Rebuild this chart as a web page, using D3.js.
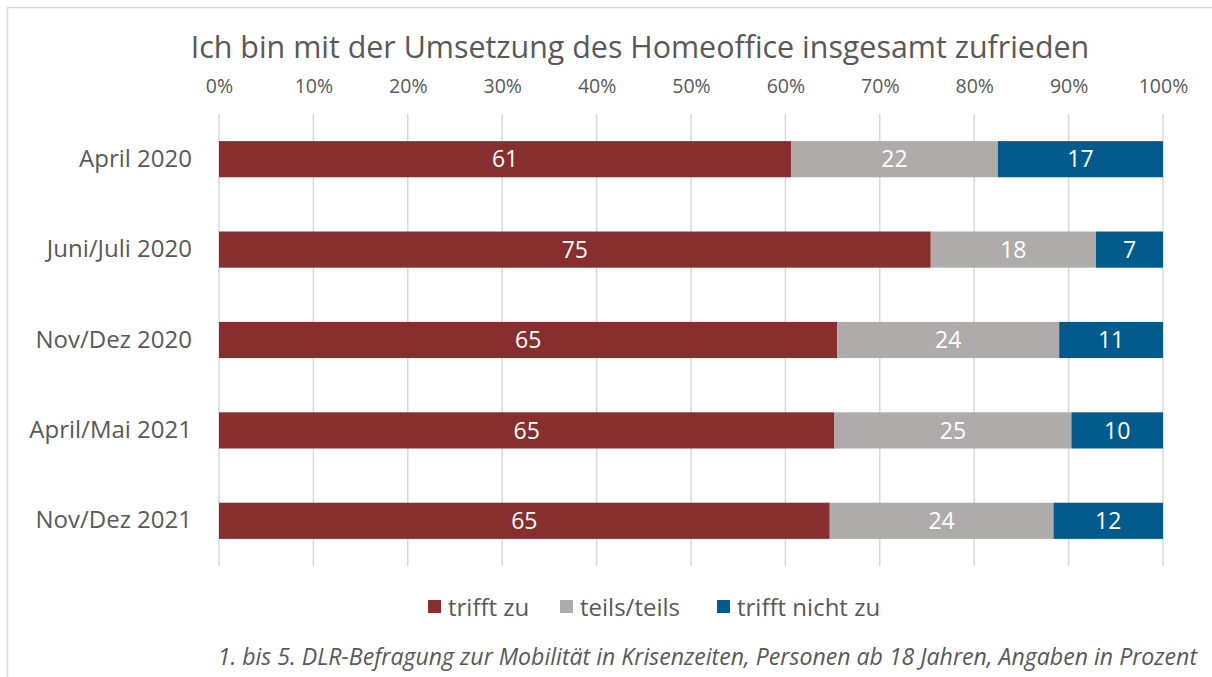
<!DOCTYPE html>
<html>
<head>
<meta charset="utf-8">
<script src="https://cdn.jsdelivr.net/npm/d3@7"></script>
<style>
  body { margin: 0; background: #fff; }
  svg text { font-family: "Open Sans", Lato, sans-serif; }
</style>
</head>
<body>
<div id="chart"></div>
<script>
// Data
var categories = ["April 2020", "Juni/Juli 2020", "Nov/Dez 2020", "April/Mai 2021", "Nov/Dez 2021"];
var seriesNames = ["trifft zu", "teils/teils", "trifft nicht zu"];
// bar lengths as measured (percent)
var triffZu      = [60.6, 75.4, 65.5, 65.2, 64.7];
var teilsTeils   = [21.9, 17.5, 23.5, 25.1, 23.7];
var triffNicht   = [17.5,  7.1, 11.0,  9.7, 11.6];
// labels printed on the bars
var labelZu      = [61, 75, 65, 65, 65];
var labelTeils   = [22, 18, 24, 25, 24];
var labelNicht   = [17,  7, 11, 10, 12];
var tickValues = [0, 10, 20, 30, 40, 50, 60, 70, 80, 90, 100];
var colors = ["#872e2e", "#afabab", "#035a8c"];

var W = 1212, H = 677;
var margin = {top: 114, right: 49, bottom: 111, left: 219},
    width = W - margin.left - margin.right,
    height = H - margin.top - margin.bottom;

var svg = d3.select("#chart")
  .append("svg")
    .attr("width", W)
    .attr("height", H);

// light frame (top and left visible)
svg.append("rect")
  .attr("x", 7.5).attr("y", 7.5)
  .attr("width", W + 20).attr("height", H + 20)
  .attr("fill", "none")
  .attr("stroke", "#d9d9d9")
  .attr("stroke-width", 1.5);

var g = svg.append("g")
  .attr("transform", "translate(" + margin.left + "," + margin.top + ")");

var x = d3.scaleLinear().domain([0, 100]).range([0, width]);
var y = d3.scaleBand().domain(categories).range([0, height]).paddingInner(0.6).paddingOuter(0.3);

// gridlines
g.append("g")
  .attr("class", "grid")
  .selectAll("line")
  .data(tickValues)
  .enter().append("line")
    .attr("x1", function(d) { return x(d); })
    .attr("x2", function(d) { return x(d); })
    .attr("y1", 0)
    .attr("y2", height)
    .attr("stroke", "#d9d9d9")
    .attr("stroke-width", 1.5);

// top axis
var xAxis = g.append("g")
  .call(d3.axisTop(x).tickValues(tickValues).tickSize(0).tickPadding(21)
    .tickFormat(function(d) { return d + "%"; }));
xAxis.select(".domain").remove();
xAxis.selectAll("text")
  .attr("fill", "#595959")
  .style("font-size", "19.5px");

// category axis
var yAxis = g.append("g")
  .call(d3.axisLeft(y).tickSize(0).tickPadding(27));
yAxis.select(".domain").remove();
yAxis.selectAll("text")
  .attr("fill", "#595959")
  .style("font-size", "24px");

// stack
var rows = categories.map(function(c, i) {
  return {cat: c, zu: triffZu[i], teils: teilsTeils[i], nicht: triffNicht[i],
          lab: [labelZu[i], labelTeils[i], labelNicht[i]]};
});
var stack = d3.stack().keys(["zu", "teils", "nicht"]);
var layers = stack(rows);

var layer = g.selectAll(".layer")
  .data(layers)
  .enter().append("g")
    .attr("class", "layer")
    .attr("fill", function(d, i) { return colors[i]; });

layer.selectAll("rect")
  .data(function(d) { return d; })
  .enter().append("rect")
    .attr("x", function(d) { return x(d[0]); })
    .attr("y", function(d) { return y(d.data.cat); })
    .attr("width", function(d) { return x(d[1]) - x(d[0]); })
    .attr("height", y.bandwidth());

layer.each(function(L, li) {
  d3.select(this).selectAll("text")
    .data(L)
    .enter().append("text")
      .attr("x", function(d) { return (x(d[0]) + x(d[1])) / 2; })
      .attr("y", function(d) { return y(d.data.cat) + y.bandwidth() / 2; })
      .attr("dy", "0.36em")
      .attr("text-anchor", "middle")
      .attr("fill", "#fff")
      .style("font-size", "23px")
      .text(function(d) { return d.data.lab[li]; });
});

// title
svg.append("text")
  .attr("x", 640).attr("y", 58)
  .attr("text-anchor", "middle")
  .attr("fill", "#595959")
  .style("font-size", "30.4px")
  .text("Ich bin mit der Umsetzung des Homeoffice insgesamt zufrieden");

// legend
var legendX = [428, 560, 717];
var leg = svg.append("g").selectAll("g")
  .data(seriesNames)
  .enter().append("g")
    .attr("transform", function(d, i) { return "translate(" + legendX[i] + ",607)"; });
leg.append("rect")
  .attr("x", 0).attr("y", -7)
  .attr("width", 13).attr("height", 13)
  .attr("fill", function(d, i) { return colors[i]; });
leg.append("text")
  .attr("x", 20).attr("y", 0)
  .attr("dy", "0.36em")
  .attr("fill", "#595959")
  .style("font-size", "24px")
  .text(function(d) { return d; });

// footnote
svg.append("text")
  .attr("x", 1197).attr("y", 665)
  .attr("text-anchor", "end")
  .attr("fill", "#595959")
  .style("font-size", "23.1px")
  .style("font-style", "italic")
  .text("1. bis 5. DLR-Befragung zur Mobilität in Krisenzeiten, Personen ab 18 Jahren, Angaben in Prozent");
</script>
</body>
</html>
